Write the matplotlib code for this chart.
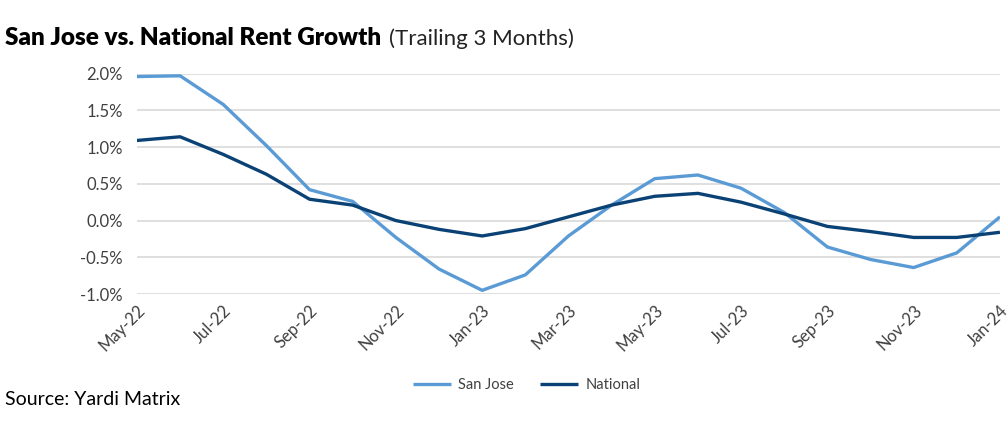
import matplotlib
matplotlib.use("Agg")
import matplotlib.pyplot as plt
from matplotlib.ticker import FuncFormatter, MultipleLocator

plt.rcParams['font.family'] = ['Lato', 'DejaVu Sans']

meses = ["May-22", "Jun-22", "Jul-22", "Aug-22", "Sep-22", "Oct-22", "Nov-22",
         "Dec-22", "Jan-23", "Feb-23", "Mar-23", "Apr-23", "May-23", "Jun-23",
         "Jul-23", "Aug-23", "Sep-23", "Oct-23", "Nov-23", "Dec-23", "Jan-24"]

san_jose = [1.96, 1.97, 1.58, 1.02, 0.42, 0.26, -0.23, -0.66, -0.95, -0.74, -0.21,
            0.21, 0.57, 0.62, 0.44, 0.11, -0.36, -0.53, -0.64, -0.44, 0.05]
nacional = [1.09, 1.14, 0.90, 0.63, 0.29, 0.21, 0.00, -0.12, -0.21, -0.11, 0.05,
            0.21, 0.33, 0.37, 0.25, 0.09, -0.08, -0.15, -0.23, -0.23, -0.16]

cor_sj = "#5B9BD5"
cor_nac = "#0B4275"

fig = plt.figure(figsize=(10.07, 4.33), dpi=100)
ax = fig.add_axes([0.136, 0.321, 0.857, 0.509])

x = list(range(len(meses)))
ax.plot(x, san_jose, color=cor_sj, linewidth=2.4, label="San Jose", solid_capstyle="butt")
ax.plot(x, nacional, color=cor_nac, linewidth=2.4, label="National", solid_capstyle="butt")

ax.set_xlim(0, len(meses) - 1)
ax.set_ylim(-1.0, 2.0)
ax.yaxis.set_major_locator(MultipleLocator(0.5))
ax.yaxis.set_major_formatter(FuncFormatter(lambda v, p: f"{v:.1f}%"))
ax.grid(axis="y", color="#d9d9d9", linewidth=1.2)
ax.set_axisbelow(True)
for s in ax.spines.values():
    s.set_visible(False)

ax.set_xticks(x[::2])
ax.set_xticklabels(meses[::2], rotation=45, ha="right", rotation_mode="anchor")
ax.tick_params(axis="both", length=0, labelsize=12, labelcolor="#404040")
ax.tick_params(axis="x", pad=6)
ax.tick_params(axis="y", pad=10)

# titulo em duas partes: negrito + normal
t1 = fig.text(0.005, 0.895, "San Jose vs. National Rent Growth", fontsize=17.5,
              fontweight="heavy", color="black")
fig.canvas.draw()
bb = t1.get_window_extent()
x2 = (bb.x1 + 8) / fig.bbox.width
fig.text(x2, 0.895, "(Trailing 3 Months)", fontsize=16, color="#222222")
fig.text(0.005, 0.065, "Source: Yardi Matrix", fontsize=14, color="black")

fig.legend(loc="center", bbox_to_anchor=(0.523, 0.111), ncol=2, frameon=False,
           fontsize=10.5, handlelength=2.6, columnspacing=1.8, handletextpad=0.5,
           labelcolor="#404040")

fig.savefig("out.png", dpi=100)
